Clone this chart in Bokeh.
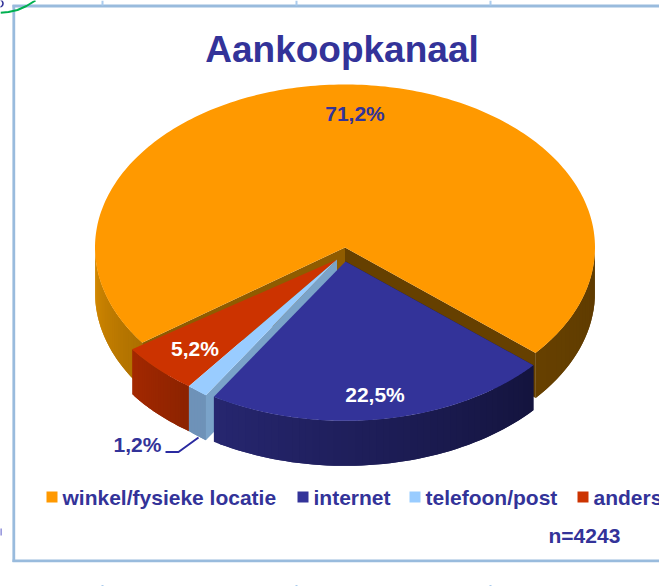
import numpy as np
from bokeh.plotting import figure
from bokeh.embed import file_html
from bokeh.resources import INLINE
from bokeh.core.properties import value

TITLE = "Aankoopkanaal"
categories = ["winkel/fysieke locatie", "internet", "telefoon/post", "anders"]
shares = [71.2, 22.5, 1.2, 5.2]
labels = ["71,2%", "22,5%", "1,2%", "5,2%"]
colors = ["#FF9900", "#333399", "#99CCFF", "#CC3300"]
sample_note = "n=4243"

W, H = 659, 586
INK = "#333399"
FRAME = "#99BBDD"
FONT = value("Liberation Sans")

p = figure(width=W, height=H, x_range=(0, W), y_range=(H, 0),
           output_backend="svg", toolbar_location=None, min_border=0,
           outline_line_color=None, background_fill_color="white",
           styles={"position": "absolute", "left": "0px", "top": "0px"})
p.axis.visible = False
p.grid.visible = False

# pie geometry (pixels)
A, B, DEPTH = 250.0, 163.0, 45.0
START = 40.3
# centre and radius scale per slice: orange, blue, light blue, red
cx = [344.5, 345.0, 336.5, 336.5]
cy = [247.0, 261.0, 259.0, 259.0]
rs = [1.0, 0.985, 0.985, 0.985]
# rim displacement at the start / end of each slice (perspective of the original)
shift0 = [(0, 0), (0, 0), (-3.5, -1.5), (-5, -4)]
shift1 = [(0, 0), (-4, -2), (-5, -4), (-5, -4)]
# order in which slices follow each other clockwise on the page
order = [1, 2, 3, 0]


def hexmix(c1, c2, t):
    a = [int(c1[i:i+2], 16) for i in (1, 3, 5)]
    b = [int(c2[i:i+2], 16) for i in (1, 3, 5)]
    return "#%02x%02x%02x" % tuple(int(round(x + (y - x) * t)) for x, y in zip(a, b))


spans = {}
ang = START
for i in order:
    spans[i] = (ang, ang + shares[i] / sum(shares) * 360.0)
    ang = spans[i][1]


def rim(i, deg):
    t = np.radians(deg)
    a0, a1 = spans[i]
    f = (deg % 360 - a0 % 360) / (a1 - a0)
    f = min(max(f, 0.0), 1.0)
    sx = shift0[i][0] + (shift1[i][0] - shift0[i][0]) * f
    sy = shift0[i][1] + (shift1[i][1] - shift0[i][1]) * f
    return cx[i] + A * rs[i] * np.cos(t) + sx, cy[i] + B * rs[i] * np.sin(t) + sy


def outer_wall(i, a0, a1, c0, c1, n=40):
    d = np.linspace(a0, a1, n + 1)
    for k in range(n):
        # every band reaches into the next, which is drawn over it: no seams
        j = min(k + 2, n)
        xa = [rim(i, v)[0] for v in d[k:j + 1]]
        ya = [rim(i, v)[1] for v in d[k:j + 1]]
        xs = xa + xa[::-1]
        ys = ya + [v + DEPTH for v in ya[::-1]]
        p.patch(xs, ys, fill_color=hexmix(c0, c1, k / max(n - 1, 1)), line_color=None)


def radial_wall(i, deg, color):
    x, y = rim(i, deg)
    p.patch([cx[i], x, x, cx[i]], [cy[i], y, y + DEPTH, cy[i] + DEPTH],
            fill_color=color, line_color=None)


def top(i):
    a0, a1 = spans[i]
    d = np.linspace(a0, a1, 240)
    xs = [cx[i]] + [rim(i, v)[0] for v in d]
    ys = [cy[i]] + [rim(i, v)[1] for v in d]
    p.patch(xs, ys, fill_color=colors[i], line_color=None)


# orange
a0, a1 = spans[0]
outer_wall(0, 0, a1 - 360, "#5E3B00", "#664000", 20)
outer_wall(0, 180, a0, "#D68A00", "#AD7000", 30)
radial_wall(0, a0, "#8F5C00")
radial_wall(0, a1, "#664000")
top(0)
# red
a0, a1 = spans[3]
outer_wall(3, a1, a0, "#A32800", "#8C2300", 24)
top(3)
# light blue
a0, a1 = spans[2]
radial_wall(2, a0, "#7AA3C9")
outer_wall(2, a1, a0, "#6E92B8", "#6E92B8", 6)
top(2)
# blue
a0, a1 = spans[1]
radial_wall(1, a0, "#14143E")
outer_wall(1, a1, a0, "#26266F", "#14143E", 50)
top(1)

# frame of the slide behind the chart
p.multi_line([[13.3, 13.3], [12, W], [12, W]],
             [[4.5, 561.5], [5.5, 5.5], [560.3, 560.3]],
             line_color=FRAME, line_width=2.8)
p.multi_line([[102, 102], [296, 296], [490, 490], [102, 102], [296, 296], [490, 490]],
             [[0, 5], [0, 5], [0, 5], [584.5, 586], [584.5, 586], [584.5, 586]],
             line_color="#AACCEE", line_width=2)

# remains of neighbouring slide content at the top-left and left edges
p.line([0, 8, 17, 26, 35], [12.3, 11.5, 9.5, 5.5, 0], line_color="#00B050", line_width=2)
p.circle([-1], [3], radius=3.5, fill_color=None, line_color=INK, line_width=1.6)
p.line([0.4, 0.4], [528, 535], line_color="#6666CC", line_width=1.5)


def txt(x, y, s, color=INK, size="21px", align="left"):
    p.text([x], [y], text=[s], text_color=color, text_font=FONT, text_font_size=size,
           text_font_style="bold", text_baseline="middle", text_align=align)


txt(341.5, 48.5, TITLE, size="37px", align="center")
txt(354.5, 112.5, labels[0], align="center")
txt(374.5, 393.5, labels[1], "white", align="center")
txt(137, 443.5, labels[2], align="center")
txt(194.5, 347.5, labels[3], "white", align="center")

p.line([165, 178, 198], [451.5, 451.5, 437], line_color="#2A2AA0", line_width=2)

sq_x = [51.5, 302.5, 414.5, 582.5]
tx_x = [62, 313, 425, 593]
for i in range(4):
    p.rect([sq_x[i]], [496.5], width=11, height=11, fill_color=colors[i], line_color=None)
    txt(tx_x[i], 496.5, categories[i])
txt(548, 535, sample_note)

open("out.html", "w").write(file_html(p, INLINE))
